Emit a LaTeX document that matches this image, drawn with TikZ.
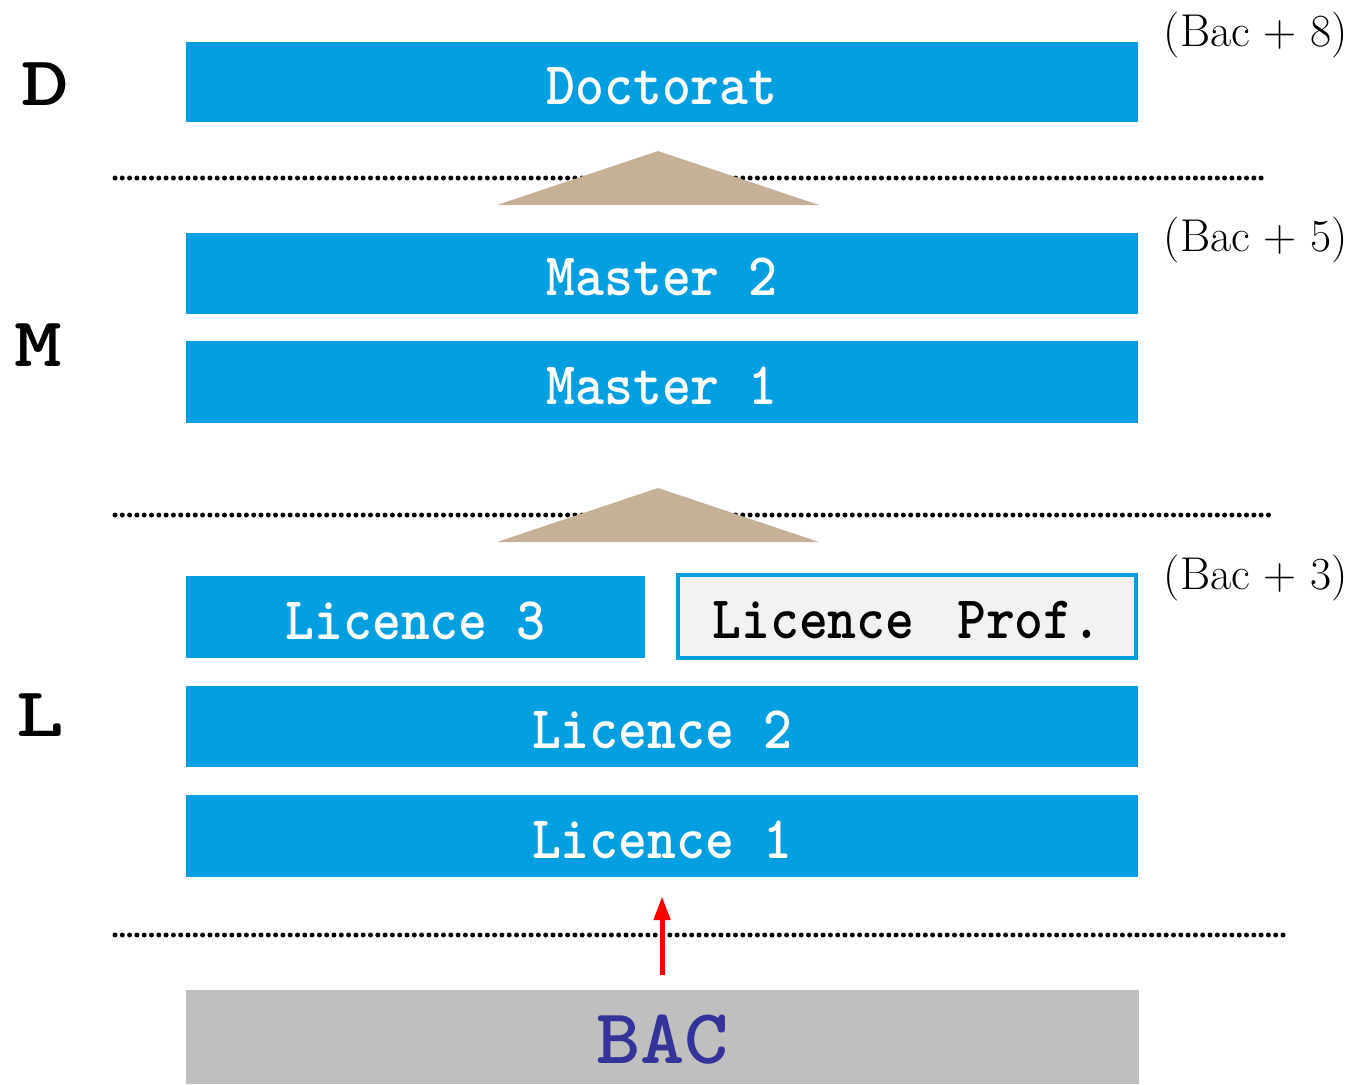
\documentclass[tikz,border=0pt]{standalone}
\usepackage{fontspec}
\usetikzlibrary{arrows.meta}
\definecolor{lmdblue}{HTML}{039FE0}
\definecolor{lmdtan}{HTML}{C6B098}
\definecolor{lmdgray}{HTML}{BFBFBF}
\definecolor{lmdpale}{HTML}{F2F2F2}
\definecolor{lmdnavy}{HTML}{333399}
\newcommand\lvlfont{\fontsize{55}{60}\selectfont\ttfamily\bfseries}
\newcommand\tallt[1]{\scalebox{1}[1.1]{#1}}
\newcommand\widet[1]{\scalebox{1.3}[1]{#1}}
\begin{document}
\begin{tikzpicture}[x=1pt,y=-1pt,
  level/.style={fill=lmdblue, inner sep=0pt, minimum height=81pt, text=white, font=\lvlfont, text height=44pt, text depth=0pt},
  profbox/.style={fill=lmdpale, draw=lmdblue, line width=4pt, inner sep=0pt, text=black, font=\lvlfont, text height=44pt, text depth=0pt},
  bacbox/.style={fill=lmdgray, inner sep=0pt, text=lmdnavy, font=\fontsize{78}{80}\selectfont\ttfamily\bfseries, text height=53pt, text depth=0pt},
  dotline/.style={line width=5pt, line cap=round, dash pattern=on 0pt off 7.3pt},
  lmdletter/.style={font=\fontsize{70}{70}\selectfont\ttfamily\bfseries, inner sep=0pt},
  baclabel/.style={font=\fontsize{46}{48}\selectfont, inner sep=0pt},
  uparrow/.style={draw=red, line width=5pt, -{Triangle[length=24pt,width=16pt]}}
]
\useasboundingbox (0,0) rectangle (1359,1084);

% dotted separators
\draw[dotline] (115,178) -- (1268,178);
\draw[dotline] (115,515) -- (1275,515);
\draw[dotline] (115,935) -- (1287,935);

% triangles
\fill[lmdtan] (658,151) -- (819,205) -- (497,205) -- cycle;
\fill[lmdtan] (658,488) -- (819,542) -- (497,542) -- cycle;

% level boxes
\node[level, minimum width=952pt, minimum height=80pt] (doc) at (662,82) {\tallt{Doctorat}};
\node[level, minimum width=952pt] (m2) at (662,273.5) {\tallt{Master 2}};
\node[level, minimum width=952pt, minimum height=82pt] (m1) at (662,382) {\tallt{Master 1}};
\node[level, minimum width=459pt, minimum height=82pt] (l3) at (415.5,617) {\tallt{Licence 3}};
\node[profbox, minimum width=458pt, minimum height=83pt] (lp) at (907,616.5) {\tallt{Licence\hspace{0.25em} Prof.}};
\node[level, minimum width=952pt] (l2) at (662,726.5) {\tallt{Licence 2}};
\node[level, minimum width=952pt, minimum height=82pt] (l1) at (662,836) {\tallt{Licence 1}};
\node[bacbox, minimum width=953pt, minimum height=94pt] (bac) at (662.5,1037) {\scalebox{1.08}[1]{BAC}};

% arrow from BAC to Licence 1
\draw[uparrow, shorten <=15pt, shorten >=19pt] (bac.north -| l1.south) -- (l1.south);

% left letters
\node[lmdletter] (ld) at (45,84) {\widet{D}};
\node[lmdletter] (lm) at (38,345) {\widet{M}};
\node[lmdletter] (ll) at (40,715) {\widet{L}};

% right labels
\node[baclabel] (b8) at (1256,35) {(Bac + 8)};
\node[baclabel] (b5) at (1256,240) {(Bac + 5)};
\node[baclabel] (b3) at (1256,578) {(Bac + 3)};
\end{tikzpicture}
\end{document}
